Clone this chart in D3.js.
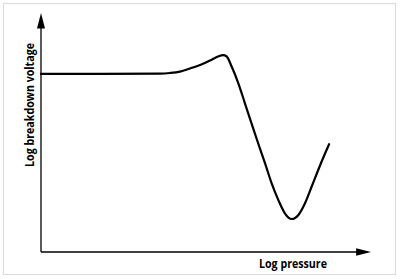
<!DOCTYPE html>
<html>
<head>
<meta charset="utf-8">
<script src="https://cdn.jsdelivr.net/npm/d3@7"></script>
<style>
  body { margin: 0; background: #fff; }
  svg { display: block; }
</style>
</head>
<body>
<svg width="400" height="279"></svg>
<script>
// curve (arbitrary log units, 0-100)
var logPressure = [0, 17.9, 36.1, 39.1, 42.1, 45.2, 48.2, 51.2, 53.6, 55.2, 56.2, 57.8, 59.8, 61.8, 63.8, 65.8, 67.9, 69.9, 71.9, 73.9, 76.0, 78.0, 80.0, 82.0, 84.0, 86.1, 87.3];
var logVoltage  = [74.5, 74.5, 74.6, 74.9, 75.5, 76.8, 78.2, 80.1, 81.8, 82.4, 81.9, 77.5, 70.6, 62.2, 53.8, 45.5, 37.1, 28.7, 21.8, 16.2, 13.8, 15.5, 20.4, 27.3, 34.3, 41.3, 45.1];
var xLabel = "Log pressure";
var yLabel = "Log breakdown voltage";

var svg = d3.select("svg");

// light frame
svg.append("rect")
   .attr("x", 3.5).attr("y", 3.5)
   .attr("width", 392).attr("height", 271)
   .attr("fill", "#fff")
   .attr("stroke", "#dcdcdc")
   .attr("stroke-width", 1.2);

var x = d3.scaleLinear().domain([0, 100]).range([41, 371]);
var y = d3.scaleLinear().domain([0, 100]).range([252, 13]);

var data = logPressure.map(function(p, i) { return { p: p, v: logVoltage[i] }; });

// axes with arrow heads
svg.append("line")
   .attr("x1", x(0)).attr("y1", y(0))
   .attr("x2", x(0)).attr("y2", y(94))
   .attr("stroke", "#000").attr("stroke-width", 1.3);
svg.append("path")
   .attr("d", "M" + x(0) + "," + y(100) + " L" + (x(0) - 4) + "," + y(93.5) + " L" + (x(0) + 4) + "," + y(93.5) + "Z")
   .attr("fill", "#000");

svg.append("line")
   .attr("x1", x(0)).attr("y1", y(0))
   .attr("x2", x(96)).attr("y2", y(0))
   .attr("stroke", "#000").attr("stroke-width", 1.3);
svg.append("path")
   .attr("d", "M" + x(100) + "," + y(0) + " L" + x(95.5) + "," + (y(0) - 3.7) + " L" + x(95.5) + "," + (y(0) + 3.7) + "Z")
   .attr("fill", "#000");

// the curve
var line = d3.line()
   .x(function(d) { return x(d.p); })
   .y(function(d) { return y(d.v); })
   .curve(d3.curveMonotoneX);

svg.append("path")
   .datum(data)
   .attr("d", line)
   .attr("fill", "none")
   .attr("stroke", "#000")
   .attr("stroke-width", 2.2)
   .attr("stroke-linecap", "round");

// labels
svg.append("text")
   .attr("x", 259).attr("y", 267.5)
   .attr("font-family", "Open Sans, sans-serif")
   .attr("font-weight", 700)
   .attr("font-size", "13px")
   .attr("textLength", 68)
   .attr("lengthAdjust", "spacingAndGlyphs")
   .text(xLabel);

svg.append("text")
   .attr("transform", "translate(33.5,167) rotate(-90)")
   .attr("font-family", "Open Sans, sans-serif")
   .attr("font-weight", 700)
   .attr("font-size", "13px")
   .attr("textLength", 124)
   .attr("lengthAdjust", "spacingAndGlyphs")
   .text(yLabel);
</script>
</body>
</html>
